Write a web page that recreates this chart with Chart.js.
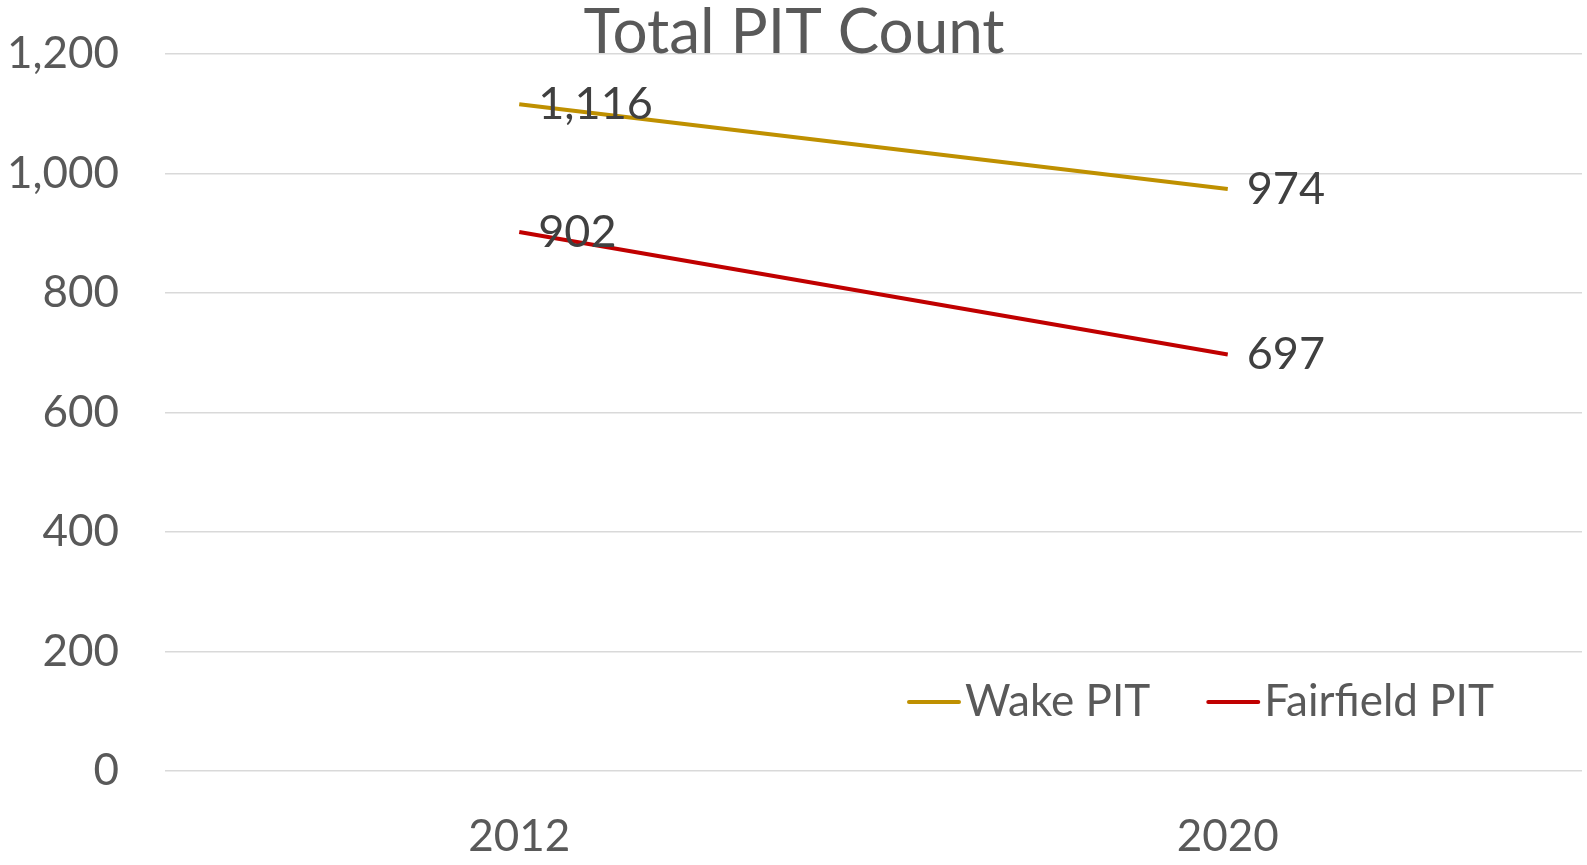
<!DOCTYPE html>
<html>
<head>
<meta charset="utf-8">
<script src="https://cdn.jsdelivr.net/npm/chart.js@4.4.0/dist/chart.umd.min.js"></script>
<style>
  html, body { margin: 0; padding: 0; background: #fff; }
  #wrap { width: 1587px; height: 865px; position: relative; }
</style>
</head>
<body>
<div id="wrap"><canvas id="chart"></canvas></div>
<script>
const years = ['2012', '2020'];
const wakePit = [1116, 974];
const fairfieldPit = [902, 697];
const yTicks = [0, 200, 400, 600, 800, 1000, 1200];

const titleText = 'Total PIT Count';
const fontFamily = 'Lato, "Open Sans", sans-serif';

// value labels to the right of each point
const valueLabels = {
    id: 'valueLabels',
    afterDatasetsDraw(c) {
        const ctx = c.ctx;
        ctx.save();
        ctx.font = '45px ' + fontFamily;
        ctx.fillStyle = '#404040';
        ctx.textAlign = 'left';
        ctx.textBaseline = 'middle';
        c.data.datasets.forEach((ds, i) => {
            c.getDatasetMeta(i).data.forEach((pt, j) => {
                ctx.fillText(ds.data[j].toLocaleString('en-US'), pt.x + 19, pt.y);
            });
        });
        ctx.restore();
    }
};

// title sits over the top gridline, legend sits inside the plot
const titleAndLegend = {
    id: 'titleAndLegend',
    afterDraw(c) {
        const ctx = c.ctx;
        const area = c.chartArea;
        ctx.save();
        ctx.font = '62px ' + fontFamily;
        ctx.fillStyle = '#595959';
        ctx.textAlign = 'center';
        ctx.textBaseline = 'alphabetic';
        ctx.fillText(titleText, 794, 53);

        ctx.font = '44px ' + fontFamily;
        ctx.textAlign = 'left';
        ctx.textBaseline = 'middle';
        let x = area.left + 744;
        const y = 702;
        c.data.datasets.forEach(ds => {
            ctx.strokeStyle = ds.borderColor;
            ctx.lineWidth = 4;
            ctx.lineCap = 'round';
            ctx.beginPath();
            ctx.moveTo(x, y);
            ctx.lineTo(x + 50, y);
            ctx.stroke();
            ctx.fillStyle = '#595959';
            ctx.fillText(ds.label, x + 56, y);
            x += 56 + ctx.measureText(ds.label).width + 58;
        });
        ctx.restore();
    }
};

new Chart(document.getElementById('chart'), {
    type: 'line',
    data: {
        labels: years,
        datasets: [
            {
                label: 'Wake PIT',
                data: wakePit,
                borderColor: '#BF9000',
                borderWidth: 4,
                pointRadius: 0
            },
            {
                label: 'Fairfield PIT',
                data: fairfieldPit,
                borderColor: '#C00000',
                borderWidth: 4,
                pointRadius: 0
            }
        ]
    },
    options: {
        responsive: true,
        maintainAspectRatio: false,
        animation: false,
        layout: { padding: { top: 54, right: 5, bottom: 2, left: 0 } },
        plugins: {
            legend: { display: false },
            title: { display: false },
            tooltip: { enabled: false }
        },
        scales: {
            x: {
                offset: true,
                afterFit(scale) {
                    scale.height = 92;
                    scale.paddingLeft = 0;
                    scale.paddingRight = 0;
                },
                grid: { display: false },
                border: { display: false },
                ticks: {
                    color: '#595959',
                    font: { family: fontFamily, size: 44 },
                    padding: 31
                }
            },
            y: {
                min: 0,
                max: 1200,
                afterBuildTicks(scale) {
                    scale.ticks = yTicks.map(v => ({ value: v }));
                },
                afterFit(scale) {
                    scale.width = 165;
                    scale.paddingTop = 0;
                    scale.paddingBottom = 0;
                },
                grid: { color: '#D9D9D9', lineWidth: 1.5, drawTicks: false },
                border: { display: false },
                ticks: {
                    color: '#595959',
                    font: { family: fontFamily, size: 44 },
                    padding: 46,
                    callback: v => v.toLocaleString('en-US')
                }
            }
        }
    },
    plugins: [valueLabels, titleAndLegend]
});
</script>
</body>
</html>
